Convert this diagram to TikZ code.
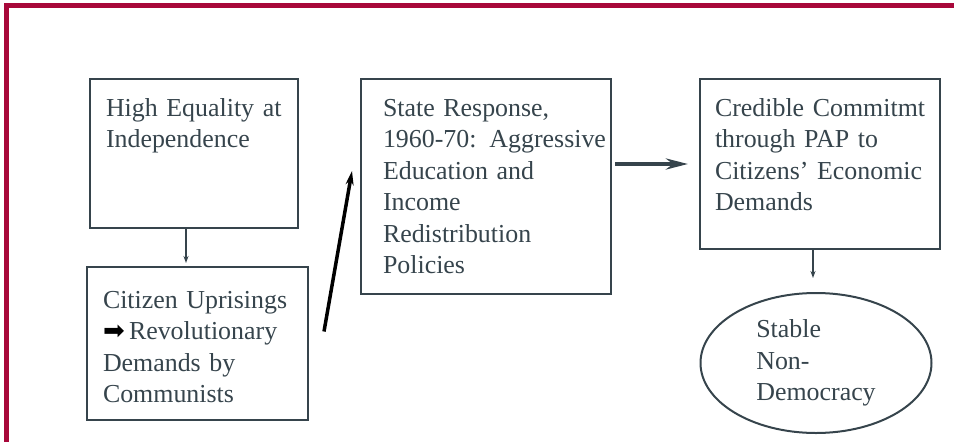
\documentclass[tikz,border=0pt]{standalone}
\usepackage{fontspec}
\setmainfont{Liberation Serif}
\newfontfamily\arrowfont{DejaVu Sans}
\usetikzlibrary{shapes.geometric,arrows.meta,calc}
\definecolor{framered}{HTML}{A8083A}
\definecolor{ink}{HTML}{36444C}
\begin{document}
\begin{tikzpicture}[x=1pt,y=-1pt,
    blk/.style={draw=ink,line width=2pt,anchor=north west,align=left,inner sep=0pt,
      text=ink,font=\fontsize{25.9}{31.5}\selectfont},
    pad/.style={execute at begin node={\leftskip=#1}},
    oval/.style={ellipse,draw=ink,line width=2pt,align=left,inner sep=0pt,
      text=ink,font=\fontsize{25.9}{31.5}\selectfont},
    thinarr/.style={draw=ink,line width=2pt,-{Stealth[length=7pt,width=5pt]}}]
  \useasboundingbox (0,0) rectangle (954,442);
  % red frame, top and left only
  \draw[framered,line width=5pt] (6.5,442) -- (6.5,5.5) -- (954,5.5);
  % boxes
  \node[blk,pad=16pt,text width=208pt,text height=37pt,text depth=112pt] (eq) at (89,78)
    {High Equality at\\Independence};
  \node[blk,pad=16pt,text width=221pt,text height=41pt,text depth=112pt] (up) at (86,266)
    {Citizen Uprisings\\{\arrowfont\color{black}➡}\,Revolutionary\\Demands by\\Communists};
  \node[blk,pad=22pt,text width=250pt,text height=37pt,text depth=178pt] (st) at (360,78)
    {State Response,\\1960-70: Aggressive\\Education and\\Income\\Redistribution\\Policies};
  \node[blk,pad=15pt,text width=240pt,text height=37pt,text depth=133pt] (cr) at (699,78)
    {Credible Commitmt\\through PAP to\\Citizens’ Economic\\Demands};
  \node[oval,minimum width=231pt,minimum height=140pt] (sn) at (816,363)
    {Stable\\Non-\\Democracy};
  % arrows
  \draw[thinarr,shorten >=3pt] ([xshift=-8pt]eq.south) -- ([xshift=-8pt]eq.south |- up.north);
  \draw[black,line width=3.5pt,-{Stealth[length=14pt,width=8pt]}]
    ($(up.east)+(15,-12)$) -- ($(st.west)+(-8,-15.5)$);
  \draw[draw=ink,line width=4pt,-{Stealth[length=22pt,width=11pt]},shorten <=3pt,shorten >=11pt]
    ([yshift=22.5pt]st.east) -- ([yshift=22.5pt]st.east -| cr.west);
  \draw[thinarr,shorten >=14pt] ([xshift=-7pt]cr.south) -- ([xshift=-7pt]cr.south |- sn.north);
\end{tikzpicture}
\end{document}
